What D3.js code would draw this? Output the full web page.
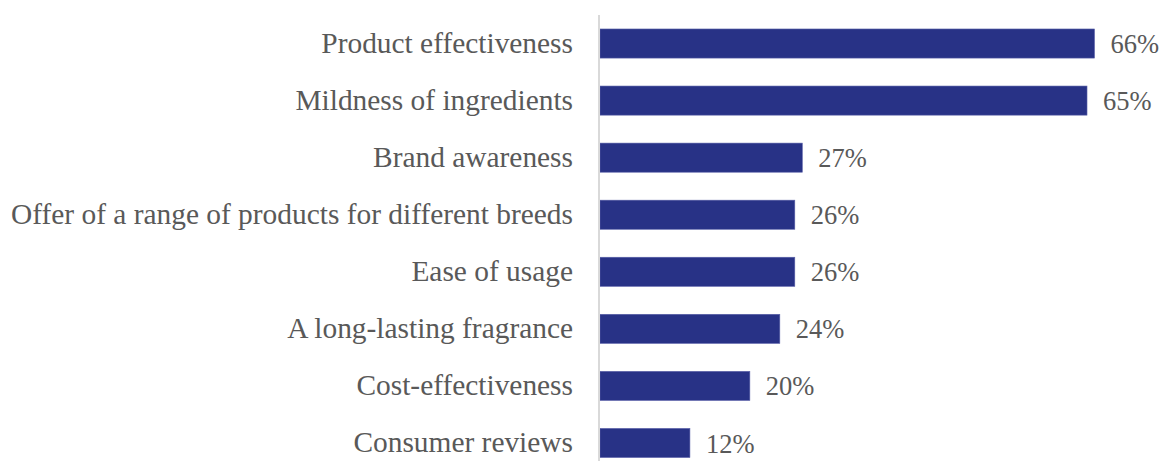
<!DOCTYPE html>
<html>
<head>
<meta charset="utf-8">
<script src="https://cdn.jsdelivr.net/npm/d3@7"></script>
<style>
  html, body { margin: 0; padding: 0; background: #ffffff; }
</style>
</head>
<body>
<svg id="chart" width="1164" height="461"></svg>
<script>
// Purchase drivers, share of respondents (%)
const categories = [
  "Product effectiveness",
  "Mildness of ingredients",
  "Brand awareness",
  "Offer of a range of products for different breeds",
  "Ease of usage",
  "A long-lasting fragrance",
  "Cost-effectiveness",
  "Consumer reviews"
];
const values = [66, 65, 27, 26, 26, 24, 20, 12];
const valueLabels = ["66%", "65%", "27%", "26%", "26%", "24%", "20%", "12%"];

const svg = d3.select("#chart");
const axisX = 599;
const serif = '"Liberation Serif", "Times New Roman", serif';
const textColor = "#595959";

const x = d3.scaleLinear().domain([0, 66]).range([axisX + 1, 1094.5]);
const y = d3.scaleBand().domain(categories).range([15, 471.5]).paddingInner(0.49).paddingOuter(0.245);

// bars
svg.append("g").selectAll("rect")
  .data(values)
  .join("rect")
  .attr("x", x(0))
  .attr("y", (d, i) => y(categories[i]))
  .attr("width", d => x(d) - x(0))
  .attr("height", y.bandwidth())
  .attr("fill", "#283286")
  .attr("stroke", "#5a60a8")
  .attr("stroke-width", 0.6);

// category axis
const yAxis = d3.axisLeft(y).tickSize(0).tickPadding(26);
const gAxis = svg.append("g").attr("transform", `translate(${axisX},0)`).call(yAxis);
gAxis.select(".domain").attr("stroke", "#d9d9d9").attr("stroke-width", 2)
  .attr("d", "M0,15V461");
gAxis.selectAll("text")
  .style("font-family", serif)
  .style("font-size", "29.4px")
  .attr("fill", textColor)
  .attr("dy", "0.31em");

// value labels
svg.append("g").selectAll("text")
  .data(values)
  .join("text")
  .attr("x", d => x(d) + 16)
  .attr("y", (d, i) => y(categories[i]) + y.bandwidth() / 2)
  .attr("dy", "0.36em")
  .style("font-family", serif)
  .style("font-size", "26.5px")
  .attr("fill", textColor)
  .text((d, i) => valueLabels[i]);
</script>
</body>
</html>
